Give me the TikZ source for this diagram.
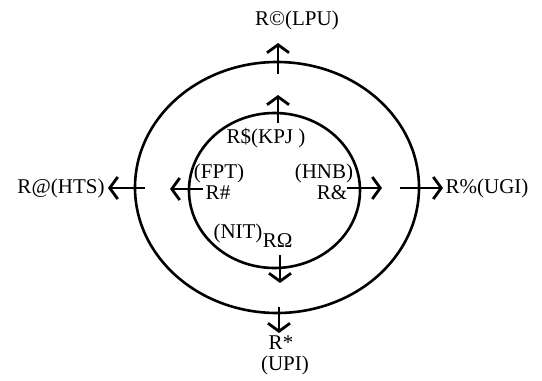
\documentclass[tikz,border=0pt]{standalone}
\usepackage{fontspec}
\setmainfont{Liberation Serif}
\usetikzlibrary{positioning, shapes.geometric, arrows.meta}

\begin{document}
\begin{tikzpicture}[
  x=1pt, y=-1pt,
  every node/.style={
    inner sep=0pt,
    font=\fontsize{21}{24}\selectfont,
  },
  ring/.style={draw, ellipse, line width=2.6pt, outer sep=0pt},
  arr/.style={line width=2.8pt, -{Straight Barb[length=8pt, width=22pt, line width=2.8pt]}},
]
\useasboundingbox (0,0) rectangle (542,381);

\node[ring, minimum width=284pt, minimum height=251pt] (outer) at (277,187.5) {};
\node[ring, minimum width=171pt, minimum height=155pt] (inner) at (274.5,190.5) {};

\coordinate (upa) at (278,123);   \coordinate (upb) at (278,95);
\coordinate (upc) at (278,74);    \coordinate (upd) at (278,43);
\coordinate (lfa) at (203,189);   \coordinate (lfb) at (170,189);
\coordinate (lfc) at (145,188);   \coordinate (lfd) at (108,188);
\coordinate (rta) at (347,188);   \coordinate (rtb) at (382,188);
\coordinate (rtc) at (400,188);   \coordinate (rtd) at (443,188);
\coordinate (dna) at (280,255);   \coordinate (dnb) at (280,283);
\coordinate (dnc) at (279,307);   \coordinate (dnd) at (279,333);

\foreach \a/\b in {upa/upb, upc/upd, lfa/lfb, lfc/lfd, rta/rtb, rtc/rtd, dna/dnb, dnc/dnd}
  \draw[arr] (\a) -- (\b);

\node (lpu) at (297,20) {R©(LPU)};
\node (kpj) at (266,138) {R\$(KPJ )};
\node (fpt) at (219,173) {(FPT)};
\node (rhash) at (218,193) {R\#};
\node (hnb) at (324,173) {(HNB)};
\node (ramp) at (332,193) {R\&};
\node (nit) at (238,233) {(NIT)};
\node[right=0pt of nit, yshift=-8pt] (romega) {RΩ};
\node (hts) at (61,188) {R@(HTS)};
\node (ugi) at (487,188) {R\%(UGI)};
\node (rstar) at (281,343) {R*};
\node (upi) at (285,365) {(UPI)};

\end{tikzpicture}
\end{document}
